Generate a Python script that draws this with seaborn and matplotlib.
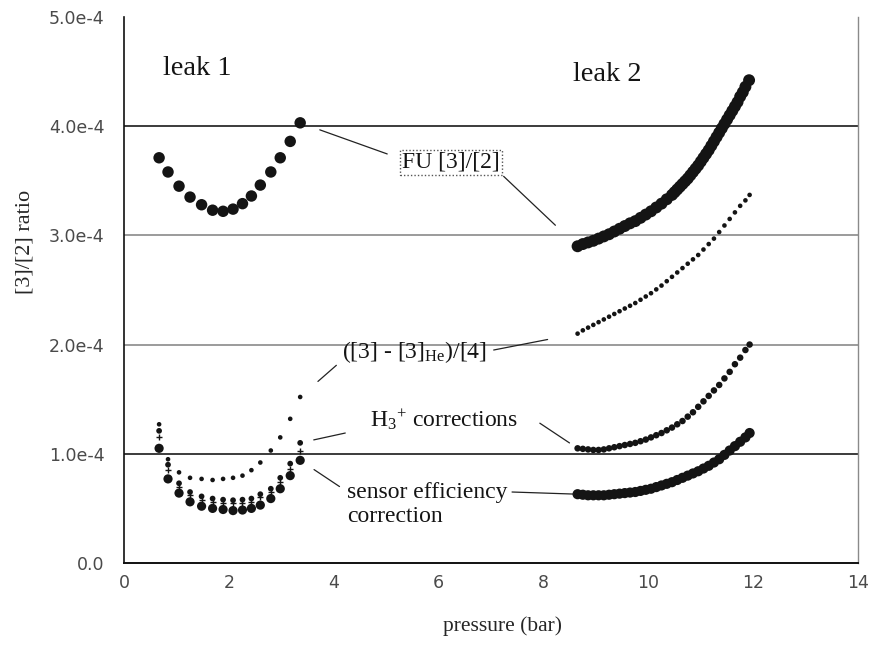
import numpy as np
import pandas as pd
import matplotlib
matplotlib.use("Agg")
import matplotlib.pyplot as plt
import seaborn as sns

# ---------------- data (ratios in units of 1e-4) ----------------
# leak 1
p1 = [0.67, 0.84, 1.05, 1.26, 1.48, 1.69, 1.89, 2.08, 2.26, 2.43, 2.60, 2.80, 2.98, 3.17, 3.36]
fu1 = [3.71, 3.58, 3.45, 3.35, 3.28, 3.23, 3.22, 3.24, 3.29, 3.36, 3.46, 3.58, 3.71, 3.86, 4.03]
diff1 = [1.27, 0.95, 0.83, 0.78, 0.77, 0.76, 0.77, 0.78, 0.80, 0.85, 0.92, 1.03, 1.15, 1.32, 1.52]
h3_1 = [1.21, 0.90, 0.73, 0.65, 0.61, 0.59, 0.58, 0.575, 0.58, 0.59, 0.63, 0.68, 0.78, 0.91, 1.10]
cross1 = [1.15, 0.85, 0.70, 0.62, 0.58, 0.56, 0.55, 0.545, 0.55, 0.56, 0.60, 0.65, 0.74, 0.86, 1.03]
sens1 = [1.05, 0.77, 0.64, 0.56, 0.52, 0.50, 0.49, 0.48, 0.485, 0.50, 0.53, 0.59, 0.68, 0.80, 0.94]

# leak 2
p2_fu = [8.65, 8.75, 8.85, 8.95, 9.05, 9.15, 9.25, 9.35, 9.45, 9.55, 9.65, 9.75, 9.85, 9.95,
         10.05, 10.15, 10.25, 10.35, 10.45, 10.50, 10.55, 10.60, 10.65, 10.70, 10.75, 10.80,
         10.85, 10.90, 10.95, 11.00, 11.05, 11.10, 11.15, 11.20, 11.25, 11.30, 11.35, 11.40,
         11.45, 11.50, 11.55, 11.60, 11.65, 11.70, 11.75, 11.80, 11.85, 11.92]
fu2 = [2.90, 2.92, 2.935, 2.95, 2.97, 2.99, 3.01, 3.035, 3.06, 3.085, 3.11, 3.13, 3.16, 3.19,
       3.22, 3.255, 3.29, 3.33, 3.37, 3.395, 3.42, 3.445, 3.47, 3.495, 3.52, 3.55,
       3.58, 3.61, 3.64, 3.675, 3.71, 3.745, 3.78, 3.82, 3.86, 3.90, 3.94, 3.98,
       4.02, 4.06, 4.10, 4.14, 4.18, 4.22, 4.27, 4.31, 4.36, 4.42]

p2 = [8.65, 8.75, 8.85, 8.95, 9.05, 9.15, 9.25, 9.35, 9.45, 9.55, 9.65, 9.75, 9.85, 9.95,
      10.05, 10.15, 10.25, 10.35, 10.45, 10.55, 10.65, 10.75, 10.85, 10.95, 11.05, 11.15,
      11.25, 11.35, 11.45, 11.55, 11.65, 11.75, 11.85, 11.93]
diff2 = [2.10, 2.13, 2.155, 2.18, 2.205, 2.23, 2.255, 2.28, 2.305, 2.33, 2.355, 2.38, 2.41, 2.44,
         2.47, 2.505, 2.54, 2.58, 2.62, 2.66, 2.70, 2.74, 2.78, 2.82, 2.87, 2.92,
         2.97, 3.03, 3.09, 3.15, 3.21, 3.27, 3.32, 3.37]
h3_2 = [1.05, 1.045, 1.04, 1.035, 1.035, 1.04, 1.05, 1.06, 1.07, 1.08, 1.09, 1.10, 1.115, 1.13,
        1.15, 1.17, 1.19, 1.215, 1.24, 1.27, 1.30, 1.34, 1.38, 1.43, 1.48, 1.53,
        1.58, 1.63, 1.69, 1.75, 1.82, 1.88, 1.95, 2.00]
sens2 = [0.63, 0.625, 0.62, 0.62, 0.62, 0.62, 0.625, 0.63, 0.635, 0.64, 0.645, 0.65, 0.66, 0.67,
         0.68, 0.695, 0.71, 0.725, 0.74, 0.76, 0.78, 0.80, 0.82, 0.84, 0.865, 0.89,
         0.92, 0.95, 0.99, 1.03, 1.07, 1.11, 1.15, 1.19]

xticks = [0, 2, 4, 6, 8, 10, 12, 14]
xtick_labels = ["0", "2", "4", "6", "8", "10", "12", "14"]
yticks = [0.0, 1e-4, 2e-4, 3e-4, 4e-4, 5e-4]
ytick_labels = ["0.0", "1.0e-4", "2.0e-4", "3.0e-4", "4.0e-4", "5.0e-4"]

SC = 1e-4

# ---------------- style ----------------
sns.set_theme(style="white")
plt.rcParams["font.family"] = ["Liberation Serif", "DejaVu Serif"]
plt.rcParams["mathtext.fontset"] = "custom"
plt.rcParams["mathtext.rm"] = "Liberation Serif"
plt.rcParams["mathtext.it"] = "Liberation Serif:italic"

fig = plt.figure(figsize=(8.73, 6.49), dpi=100)
ax = fig.add_axes([0.142, 0.1325, 0.841, 0.8415])

INK = "#141414"

def dots(x, y, s, marker="o", lw=0):
    df = pd.DataFrame({"p": x, "r": np.asarray(y) * SC})
    kw = dict(data=df, x="p", y="r", ax=ax, s=s, marker=marker, color=INK, zorder=3, legend=False)
    if marker == "+":
        sns.scatterplot(**kw, linewidth=lw)
    else:
        sns.scatterplot(**kw, linewidth=0, edgecolor="none")

# leak 1
dots(p1, fu1, 68)
dots(p1, diff1, 11)
dots(p1, cross1, 14, marker="+", lw=1.0)
dots(p1, h3_1, 17)
dots(p1, sens1, 44)
# leak 2
dots(p2_fu, fu2, 74)
dots(p2, diff2, 11)
dots(p2, h3_2, 22)
dots(p2, sens2, 54)

# ---------------- axes ----------------
ax.set_xlim(0, 14)
ax.set_ylim(0, 5e-4)
ax.set_xticks(xticks)
ax.set_xticklabels(xtick_labels)
ax.set_yticks(yticks)
ax.set_yticklabels(ytick_labels)
for lab in ax.get_xticklabels() + ax.get_yticklabels():
    lab.set_fontfamily("DejaVu Sans")
    lab.set_fontsize(12.5)
    lab.set_color("#4a4a4a")
ax.tick_params(axis="both", direction="inout", length=8, width=1.0, color="#222222")
ax.tick_params(axis="y", pad=10)
ax.tick_params(axis="x", pad=4)

ax.grid(axis="y", linewidth=1.2)
glines = ax.get_ygridlines()
gcol = ["none", "#1a1a1a", "#8a8a8a", "#8a8a8a", "#1a1a1a", "none"]
for gl, c in zip(glines, gcol):
    gl.set_color(c)
ax.set_axisbelow(True)

ax.spines["top"].set_visible(False)
ax.spines["left"].set_color("#111111")
ax.spines["bottom"].set_color("#111111")
ax.spines["left"].set_linewidth(1.2)
ax.spines["bottom"].set_linewidth(1.4)
ax.spines["right"].set_color("#8a8a8a")
ax.spines["right"].set_linewidth(1.0)

ax.set_xlabel("pressure (bar)", fontsize=15.5)
ax.set_ylabel("[3]/[2] ratio", fontsize=16)
ax.xaxis.set_label_coords(0.516, -0.097)
ax.yaxis.set_label_coords(-0.122, 0.588)

# ---------------- annotations ----------------
FS = 17
ax.text(0.75, 4.53e-4, "leak 1", fontsize=20.5, va="center", ha="left", color=INK)
ax.text(8.57, 4.47e-4, "leak 2", fontsize=20.5, va="center", ha="left", color=INK)

ax.text(6.24, 3.67e-4, "FU [3]/[2]", fontsize=FS, ha="center", va="center", color=INK,
        bbox=dict(boxstyle="square,pad=0.08", fc="white", ec="#555555", ls=(0, (1, 1.5)), lw=1.0))
ax.text(5.53, 1.93e-4, r"([3] - [3]$_{\mathrm{He}}$)/[4]", fontsize=FS, ha="center", va="center", color=INK)
ax.text(6.10, 1.31e-4, r"H$_{3}$$^{+}$ corrections", fontsize=FS, ha="center", va="center", color=INK)
ax.text(4.26, 0.74e-4, "sensor efficiency\ncorrection", fontsize=FS, ha="left", va="top",
        color=INK, linespacing=1.15)

def leader(txy, target, shrink):
    ax.annotate("", xy=(target[0], target[1] * SC), xytext=txy,
                arrowprops=dict(arrowstyle="-", color="#222222", lw=0.9,
                                shrinkA=0, shrinkB=shrink))

leader((5.02, 3.745e-4), (p1[-1], fu1[-1]), 15)
leader((7.24, 3.54e-4), (p2_fu[0], fu2[0]), 22)
leader((4.05, 1.81e-4), (p1[-1], diff1[-1]), 17)
leader((7.05, 1.95e-4), (p2[0], diff2[0]), 22)
leader((4.22, 1.19e-4), (p1[-1], h3_1[-1]), 10)
leader((7.93, 1.28e-4), (p2[0], h3_2[0]), 7)
leader((4.11, 0.70e-4), (p1[-1], sens1[-1]), 12)
leader((7.40, 0.65e-4), (p2[0], sens2[0]), 3)

fig.savefig("out.png", dpi=100, facecolor="white")
